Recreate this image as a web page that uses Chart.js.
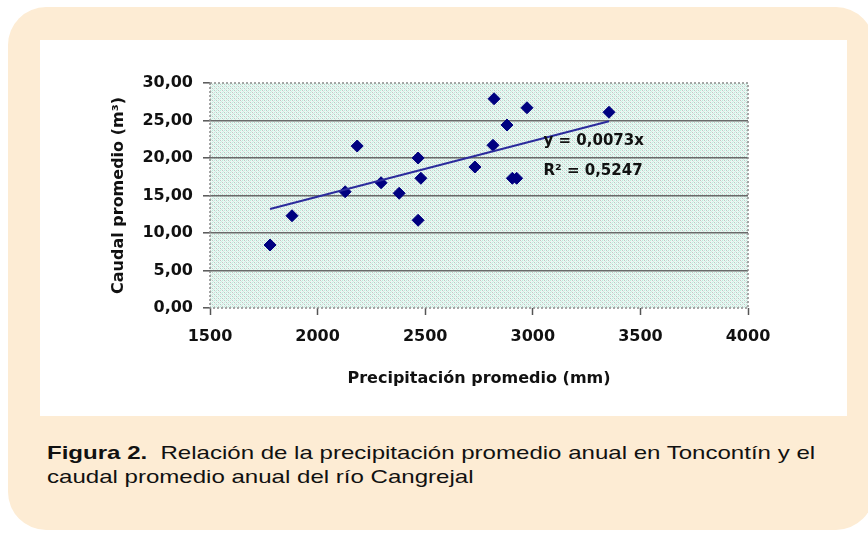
<!DOCTYPE html>
<html lang="es">
<head>
<meta charset="utf-8">
<title>Precipitación y caudal</title>
<script src="https://cdn.jsdelivr.net/npm/chart.js@4.4.1/dist/chart.umd.min.js"></script>
<style>
  html, body { margin: 0; padding: 0; background: #ffffff; }
  body { width: 868px; height: 533px; position: relative; overflow: hidden; }
  .panel {
    position: absolute; left: 8px; top: 7px; width: 866px; height: 523px;
    background: #fdecd4; border-radius: 38px;
  }
  .chart-box {
    position: absolute; left: 40px; top: 40px; width: 807px; height: 376px;
    background: #ffffff;
  }
  .caption {
    position: absolute; left: 47px; top: 441px;
    font-family: "Liberation Sans", Arial, sans-serif; font-size: 18.5px;
    line-height: 24px; color: #111; white-space: nowrap;
    transform: scaleX(1.3); transform-origin: left top;
  }
  .caption b { margin-right: 5px; }
</style>
</head>
<body>
<div class="panel"></div>
<div class="chart-box"><canvas id="chart" width="807" height="376"></canvas></div>
<div class="caption"><b>Figura 2.</b> Relación de la precipitación promedio anual en Toncontín y el<br>caudal promedio anual del río Cangrejal</div>

<script>
// Data
const precipitacion = [1779, 1881, 2128, 2184, 2295, 2379, 2467, 2480, 2467, 2731, 2815, 2820, 2880, 2973, 2905, 2925, 3354];
const caudal = [8.4, 12.3, 15.5, 21.6, 16.7, 15.3, 20.0, 17.3, 11.7, 18.8, 21.7, 27.9, 24.4, 26.7, 17.3, 17.3, 26.1];

// Trendline ends (as drawn in the figure)
const trendX = [1779, 3354];
const trendY = [13.2, 24.9];
const trendText = ["y = 0,0073x", "R² = 0,5247"];

const xTickLabels = ["1500", "2000", "2500", "3000", "3500", "4000"];
const yTickLabels = ["0,00", "5,00", "10,00", "15,00", "20,00", "25,00", "30,00"];

const axisFont = { family: "DejaVu Sans", size: 16, weight: "bold" };

// Dotted mint/grey fill like the old spreadsheet plot area
const makePattern = (ctx) => {
  const c = document.createElement("canvas");
  c.width = 4;
  c.height = 4;
  const p = c.getContext("2d");
  p.fillStyle = "#eaf8f3";
  p.fillRect(0, 0, 4, 4);
  p.fillStyle = "#c4c4c4";
  p.fillRect(0, 0, 1, 1);
  p.fillRect(2, 2, 1, 1);
  p.fillStyle = "#bdeedd";
  p.fillRect(2, 0, 1, 1);
  p.fillRect(0, 2, 1, 1);
  p.fillStyle = "#d4e8e2";
  p.fillRect(1, 1, 1, 1);
  p.fillRect(3, 3, 1, 1);
  return ctx.createPattern(c, "repeat");
};

const plotArea = {
  id: "plotArea",
  beforeDraw(chart) {
    const { ctx, chartArea: a } = chart;
    ctx.save();
    ctx.fillStyle = makePattern(ctx);
    ctx.fillRect(a.left, a.top, a.right - a.left, a.bottom - a.top);
    ctx.restore();
  },
  beforeDatasetsDraw(chart) {
    const { ctx, chartArea: a } = chart;
    ctx.save();
    ctx.strokeStyle = "#8a8a8a";
    ctx.lineWidth = 1.5;
    ctx.setLineDash([2, 2]);
    ctx.strokeRect(a.left, a.top, a.right - a.left, a.bottom - a.top);
    ctx.restore();
  },
  afterDatasetsDraw(chart) {
    const { ctx, scales } = chart;
    const x = scales.x.getPixelForValue(3050);
    ctx.save();
    ctx.font = "bold 15px 'DejaVu Sans'";
    ctx.fillStyle = "#111";
    ctx.textBaseline = "middle";
    ctx.fillText(trendText[0], x, scales.y.getPixelForValue(22.3));
    ctx.fillText(trendText[1], x, scales.y.getPixelForValue(18.3));
    ctx.restore();
  },
};

new Chart(document.getElementById("chart"), {
  type: "scatter",
  data: {
    datasets: [
      {
        label: "Tendencia",
        type: "line",
        data: trendX.map((x, i) => ({ x, y: trendY[i] })),
        borderColor: "#2b2b9c",
        borderWidth: 2,
        pointRadius: 0,
        fill: false,
        order: 0,
      },
      {
        label: "Caudal",
        data: precipitacion.map((x, i) => ({ x, y: caudal[i] })),
        pointStyle: "rectRot",
        pointRadius: 6,
        backgroundColor: "#000080",
        borderColor: "#000080",
        order: 1,
      },
    ],
  },
  options: {
    responsive: false,
    animation: false,
    layout: { padding: { left: 0, top: 43, right: 99, bottom: 0 } },
    plugins: { legend: { display: false }, tooltip: { enabled: false } },
    scales: {
      x: {
        type: "linear",
        min: 1500,
        max: 4000,
        border: { display: false },
        grid: { drawOnChartArea: false, tickLength: 7, tickColor: "#555", tickWidth: 1.5 },
        ticks: {
          stepSize: 500,
          padding: 12,
          color: "#111",
          font: axisFont,
          maxRotation: 0,
          callback: (v, i) => xTickLabels[i],
        },
        title: {
          display: true,
          text: "Precipitación promedio (mm)",
          color: "#111",
          font: axisFont,
          padding: { top: 0, bottom: 28 },
        },
        afterFit: (s) => { s.height = 108; },
      },
      y: {
        min: 0,
        max: 30,
        border: { display: false },
        grid: {
          color: (c) => (c.tick && (c.tick.value === 0 || c.tick.value === 30) ? "rgba(0,0,0,0)" : "#6a6a6a"),
          lineWidth: 1.6,
          tickLength: 7,
          tickColor: "#555",
          tickWidth: 1.5,
        },
        ticks: {
          stepSize: 5,
          padding: 10,
          color: "#111",
          font: axisFont,
          callback: (v, i) => yTickLabels[i],
        },
        title: {
          display: true,
          text: "Caudal promedio (m³)",
          color: "#111",
          font: axisFont,
          padding: { top: 69, bottom: 0 },
        },
        afterFit: (s) => { s.width = 170; },
      },
    },
  },
  plugins: [plotArea],
});
</script>
</body>
</html>
